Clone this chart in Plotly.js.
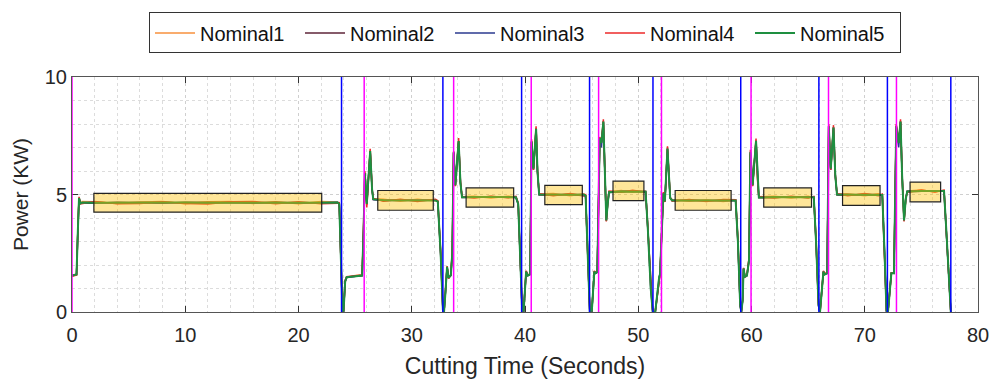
<!DOCTYPE html>
<html>
<head>
<meta charset="utf-8">
<script src="https://cdn.plot.ly/plotly-3.0.1.min.js"></script>
<style>html,body{margin:0;padding:0;background:#fff;}#chart{width:991px;height:379px;}</style>
</head>
<body>
<div id="chart"></div>
<script>
// ---- data ----
const seriesNames = ["Nominal1", "Nominal2", "Nominal3", "Nominal4", "Nominal5"];

const time = [
  0, 0.4, 0.52, 0.62, 0.75, 0.9, 2, 4, 6, 8, 10, 12, 14, 16, 18, 20, 22, 23.45, 23.6, 23.75, 23.88, 23.98, 24.12, 24.25, 25.0, 25.62,
  25.75, 25.86, 26.03, 26.18, 26.33, 26.5, 26.6, 27.5, 29, 30.5, 32.1, 32.3, 32.55, 32.75, 32.85,
  32.97, 33.12, 33.25, 33.45, 33.58, 33.7, 33.85, 34.14, 34.3, 34.44, 35.5, 37, 38.5, 39.2, 39.4, 39.6, 39.75, 39.88,
  40.02, 40.1, 40.25, 40.45, 40.58, 40.75, 40.98, 41.1, 41.25, 42.5, 44, 45.2, 45.35, 45.55, 45.72, 45.9,
  46.05, 46.12, 46.25, 46.38, 46.6, 46.75, 46.92, 47.05, 47.18, 47.3, 47.42, 48.5, 49.5, 50.65, 50.85, 51.1, 51.28, 51.5,
  51.85, 51.92, 52.22, 52.35, 52.58, 52.72, 52.82, 53, 54.5, 56, 57.5, 58.6, 58.8, 59.0, 59.1,
  59.22, 59.3, 59.42, 59.6, 59.78, 59.9, 60.1, 60.4, 60.55, 60.65, 62, 63.5, 65, 65.5, 65.7, 65.92, 66.05,
  66.2, 66.35, 66.45, 66.68, 66.82, 67.0, 67.24, 67.4, 67.55, 68.5, 70, 71.2, 71.55, 71.75, 71.92, 72.05,
  72.25, 72.35, 72.58, 72.78, 73.0, 73.16, 73.3, 73.47, 73.62, 73.75, 75, 76.2, 77.0, 77.2, 77.45, 77.6
];

const nominal1 = [
  1.52, 1.58, 3.45, 4.82, 4.6, 4.7, 4.69, 4.62, 4.68, 4.7, 4.61, 4.69, 4.7, 4.62, 4.69, 4.61, 4.7, 4.68, 4.62, 2.05, 0.05, 0.05, 1.28, 1.46, 1.55, 1.57,
  3.45, 5.85, 4.55, 5.95, 6.82, 5.15, 4.82, 4.8, 4.71, 4.8, 4.72, 4.72, 2.55, 0.1, 0.0,
  0.78, 1.9, 1.43, 1.58, 2.45, 6.75, 5.38, 7.25, 5.45, 4.9, 4.93, 4.85, 4.93, 4.9, 4.62, 2.05, 0.05, 0.05,
  1.38, 1.7, 1.57, 1.62, 7.2, 6.08, 7.78, 5.95, 5.02, 5.04, 4.95, 5.03, 4.97, 2.55, 0.05, 0.05,
  1.48, 1.7, 1.67, 1.72, 7.35, 7.18, 8.05, 5.95, 3.88, 4.58, 5.12, 5.17, 5.1, 5.15, 3.55, 1.05, 0.0, 0.0,
  1.48, 1.62, 5.02, 4.72, 6.9, 5.45, 4.87, 4.79, 4.71, 4.78, 4.7, 4.77, 3.05, 0.3, 0.0,
  0.5, 1.83, 1.52, 1.57, 2.15, 6.75, 5.38, 7.25, 5.45, 4.9, 4.93, 4.85, 4.93, 4.86, 3.05, 0.3, 0.0,
  0.78, 1.7, 1.62, 1.67, 7.85, 6.08, 7.8, 5.75, 5.02, 5.03, 4.95, 5.03, 4.96, 2.55, 0.05, 0.0,
  1.0, 1.63, 1.67, 7.85, 7.18, 8.05, 5.75, 3.88, 4.78, 5.15, 5.19, 5.11, 5.18, 3.55, 1.05, 0.0
];

const nominal2 = [
  1.56, 1.61, 3.52, 4.84, 4.63, 4.64, 4.63, 4.67, 4.65, 4.63, 4.67, 4.66, 4.63, 4.65, 4.67, 4.64, 4.65, 4.65, 4.58, 1.95, 0.02, 0.02, 1.32, 1.49, 1.51, 1.54,
  3.55, 5.92, 4.62, 6.02, 6.86, 5.22, 4.78, 4.74, 4.77, 4.74, 4.77, 4.68, 2.45, 0.05, 0.0,
  0.82, 1.93, 1.46, 1.55, 2.55, 6.82, 5.42, 7.28, 5.52, 4.87, 4.87, 4.91, 4.87, 4.87, 4.58, 1.95, 0.02, 0.02,
  1.42, 1.73, 1.54, 1.59, 7.27, 6.12, 7.82, 6.02, 4.98, 4.97, 5.01, 4.97, 4.94, 2.45, 0.02, 0.02,
  1.52, 1.73, 1.64, 1.69, 7.42, 7.22, 8.12, 6.02, 3.92, 4.62, 5.09, 5.12, 5.15, 5.11, 3.45, 0.95, 0.0, 0.0,
  1.52, 1.59, 5.07, 4.69, 6.97, 5.52, 4.84, 4.73, 4.76, 4.73, 4.76, 4.73, 2.95, 0.25, 0.0,
  0.52, 1.86, 1.49, 1.54, 2.25, 6.82, 5.42, 7.3, 5.52, 4.86, 4.87, 4.9, 4.87, 4.89, 2.95, 0.25, 0.0,
  0.82, 1.73, 1.59, 1.64, 7.92, 6.12, 7.87, 5.82, 4.98, 4.97, 5.01, 4.97, 4.99, 2.45, 0.02, 0.0,
  1.02, 1.66, 1.64, 7.92, 7.22, 8.12, 5.82, 3.92, 4.82, 5.12, 5.14, 5.16, 5.14, 3.45, 0.95, 0.0
];

const nominal3 = [
  1.54, 1.59, 3.48, 4.83, 4.64, 4.65, 4.66, 4.64, 4.66, 4.64, 4.65, 4.64, 4.66, 4.64, 4.66, 4.66, 4.64, 4.67, 4.61, 2.02, 0.03, 0.03, 1.29, 1.47, 1.53, 1.56,
  3.48, 5.88, 4.58, 5.98, 6.84, 5.18, 4.79, 4.75, 4.76, 4.75, 4.76, 4.71, 2.52, 0.08, 0.0,
  0.79, 1.91, 1.44, 1.57, 2.48, 6.78, 5.39, 7.26, 5.48, 4.89, 4.88, 4.89, 4.9, 4.89, 4.61, 2.02, 0.03, 0.03,
  1.39, 1.71, 1.56, 1.61, 7.22, 6.05, 7.79, 5.98, 5.01, 5.0, 4.99, 5.0, 4.96, 2.52, 0.03, 0.03,
  1.49, 1.71, 1.66, 1.71, 7.3, 7.0, 8.08, 5.98, 3.89, 4.59, 5.11, 5.14, 5.13, 5.13, 3.52, 1.02, 0.0, 0.0,
  1.49, 1.61, 5.04, 4.71, 6.93, 5.48, 4.86, 4.76, 4.74, 4.75, 4.74, 4.75, 3.02, 0.28, 0.0,
  0.49, 1.84, 1.51, 1.56, 2.18, 6.7, 5.39, 7.27, 5.48, 4.88, 4.88, 4.89, 4.88, 4.89, 3.02, 0.28, 0.0,
  0.79, 1.71, 1.61, 1.66, 7.7, 6.05, 7.84, 5.78, 5.01, 5.0, 4.99, 5.0, 4.97, 2.52, 0.03, 0.0,
  0.99, 1.64, 1.66, 7.75, 7.0, 8.08, 5.78, 3.89, 4.79, 5.14, 5.16, 5.14, 5.16, 3.52, 1.02, 0.0
];

const nominal4 = [
  1.53, 1.57, 3.55, 4.9, 4.6, 4.61, 4.7, 4.61, 4.62, 4.69, 4.62, 4.6, 4.69, 4.7, 4.61, 4.69, 4.61, 4.63, 4.65, 2.1, 0.05, 0.05, 1.35, 1.5, 1.55, 1.58,
  3.6, 6.0, 4.45, 6.05, 6.95, 5.25, 4.83, 4.71, 4.8, 4.7, 4.8, 4.74, 2.6, 0.12, 0.0,
  0.85, 1.95, 1.42, 1.59, 2.6, 6.85, 5.35, 7.4, 5.55, 4.92, 4.85, 4.93, 4.86, 4.92, 4.65, 2.1, 0.05, 0.05,
  1.43, 1.75, 1.57, 1.63, 7.35, 6.05, 7.9, 6.05, 5.03, 4.95, 5.04, 4.95, 4.99, 2.6, 0.05, 0.05,
  1.53, 1.75, 1.68, 1.73, 7.45, 7.25, 8.2, 6.05, 3.85, 4.65, 5.15, 5.1, 5.18, 5.1, 3.6, 1.1, 0.0, 0.0,
  1.53, 1.63, 5.1, 4.68, 7.05, 5.55, 4.88, 4.71, 4.79, 4.7, 4.79, 4.78, 3.1, 0.35, 0.0,
  0.55, 1.88, 1.48, 1.58, 2.3, 6.9, 5.35, 7.38, 5.55, 4.91, 4.85, 4.93, 4.85, 4.92, 3.1, 0.35, 0.0,
  0.85, 1.75, 1.63, 1.68, 8.0, 6.05, 7.95, 5.85, 5.03, 4.95, 5.04, 4.95, 5.02, 2.6, 0.05, 0.0,
  1.05, 1.67, 1.68, 8.0, 7.25, 8.2, 5.85, 3.85, 4.84, 5.1, 5.19, 5.11, 5.19, 3.6, 1.1, 0.0
];

const nominal5 = [
  1.55, 1.6, 3.5, 4.85, 4.62, 4.66, 4.65, 4.66, 4.64, 4.65, 4.66, 4.65, 4.64, 4.66, 4.65, 4.65, 4.66, 4.66, 4.6, 2.0, 0.05, 0.05, 1.3, 1.48, 1.52, 1.55,
  3.5, 5.9, 4.6, 6.0, 6.85, 5.2, 4.8, 4.76, 4.75, 4.76, 4.75, 4.7, 2.5, 0.1, 0.0,
  0.8, 1.92, 1.45, 1.56, 2.5, 6.8, 5.4, 7.27, 5.5, 4.88, 4.89, 4.9, 4.89, 4.88, 4.6, 2.0, 0.05, 0.05,
  1.4, 1.72, 1.55, 1.6, 7.25, 6.1, 7.8, 6.0, 5.0, 4.99, 5.0, 4.99, 4.95, 2.5, 0.05, 0.05,
  1.5, 1.72, 1.65, 1.7, 7.4, 7.2, 8.1, 6.0, 3.9, 4.6, 5.1, 5.13, 5.14, 5.12, 3.5, 1.0, 0.0, 0.0,
  1.5, 1.6, 5.05, 4.7, 6.95, 5.5, 4.85, 4.75, 4.75, 4.74, 4.75, 4.74, 3.0, 0.3, 0.0,
  0.5, 1.85, 1.5, 1.55, 2.2, 6.8, 5.4, 7.28, 5.5, 4.87, 4.89, 4.88, 4.89, 4.88, 3.0, 0.3, 0.0,
  0.8, 1.72, 1.6, 1.65, 7.9, 6.1, 7.85, 5.8, 5.0, 4.99, 5.0, 4.99, 4.98, 2.5, 0.05, 0.0,
  1.0, 1.65, 1.65, 7.9, 7.2, 8.1, 5.8, 3.9, 4.8, 5.13, 5.15, 5.15, 5.15, 3.5, 1.0, 0.0
];

// event markers (vertical lines)
const startTimes = [0, 25.8, 33.7, 40.55, 46.5, 52.05, 59.96, 66.8, 72.8];
const endTimes = [23.8, 32.75, 39.7, 45.7, 51.3, 59.05, 65.95, 72.0, 77.6];

// steady-state windows
const boxX0 = [1.93, 27.0, 34.8, 41.75, 47.77, 53.26, 61.08, 68.04, 74.0];
const boxX1 = [22.05, 31.9, 39.0, 45.06, 50.5, 58.2, 65.3, 71.35, 76.7];
const boxY0 = [4.25, 4.33, 4.46, 4.57, 4.74, 4.33, 4.46, 4.54, 4.69];
const boxY1 = [5.05, 5.17, 5.28, 5.39, 5.57, 5.17, 5.28, 5.38, 5.53];

const xTickVals = [0, 10, 20, 30, 40, 50, 60, 70, 80];
const yTickVals = [0, 5, 10];

// ---- chart ----
const seriesData = [nominal1, nominal2, nominal3, nominal4, nominal5];
const colors = ["#F7913D", "#5E2539", "#2B3A8F", "#EC2A2A", "#1E8F40"];
const widths = [1.5, 1.5, 1.5, 1.5, 2];

const traces = seriesNames.map((n, i) => ({
  type: "scatter", mode: "lines", name: n, x: time, y: seriesData[i],
  line: {color: colors[i], width: widths[i]}
}));

const shapes = [];
boxX0.forEach((x0, i) => shapes.push({
  type: "rect", xref: "x", yref: "y", x0: x0, x1: boxX1[i], y0: boxY0[i], y1: boxY1[i],
  fillcolor: "rgba(255,192,0,0.4)", line: {color: "#222", width: 1.2}, layer: "above"
}));
startTimes.forEach(t => shapes.push({
  type: "line", xref: "x", yref: "y", x0: t, x1: t, y0: 0, y1: 10,
  line: {color: "#FF00FF", width: 1.5}, layer: "above"
}));
endTimes.forEach(t => shapes.push({
  type: "line", xref: "x", yref: "y", x0: t, x1: t, y0: 0, y1: 10,
  line: {color: "#0000FF", width: 1.5}, layer: "above"
}));

const fontFam = "Liberation Sans, Arial, sans-serif";
const axisCommon = {
  showline: true, linecolor: "#555", linewidth: 1, mirror: "ticks",
  ticks: "inside", ticklen: 6, tickcolor: "#333", tickwidth: 1,
  showgrid: true, gridcolor: "#cfcfcf", griddash: "dot", gridwidth: 1,
  zeroline: false, tickfont: {family: fontFam, size: 20, color: "#262626"}
};

const layout = {
  width: 991, height: 379,
  margin: {l: 72, r: 13, t: 74, b: 67},
  paper_bgcolor: "#fff", plot_bgcolor: "#fff",
  font: {family: fontFam, color: "#262626"},
  showlegend: true,
  legend: {
    orientation: "h", x: 0.5, xanchor: "center", y: 1.275, yanchor: "top",
    bordercolor: "#333", borderwidth: 1, bgcolor: "#fff",
    font: {family: fontFam, size: 20, color: "#111"},
    entrywidth: 95, entrywidthmode: "pixels", itemwidth: 40, tracegroupgap: 0
  },
  xaxis: Object.assign({}, axisCommon, {
    range: [0, 80], tickvals: xTickVals, ticktext: xTickVals.map(String),
    ticklabelstandoff: 5,
    minor: {dtick: 2, showgrid: true, gridcolor: "#dcdcdc", griddash: "dot", gridwidth: 1, ticks: ""},
    title: {text: "Cutting Time (Seconds)", font: {family: fontFam, size: 23, color: "#262626"}, standoff: 14}
  }),
  yaxis: Object.assign({}, axisCommon, {
    range: [0, 10], tickvals: yTickVals, ticktext: yTickVals.map(String),
    minor: {dtick: 1, showgrid: true, gridcolor: "#dcdcdc", griddash: "dot", gridwidth: 1, ticks: ""},
    title: {text: "Power (KW)", font: {family: fontFam, size: 21, color: "#262626"}, standoff: 10}
  }),
  shapes: shapes
};

Plotly.newPlot("chart", traces, layout, {displayModeBar: false, staticPlot: true});
</script>
</body>
</html>
